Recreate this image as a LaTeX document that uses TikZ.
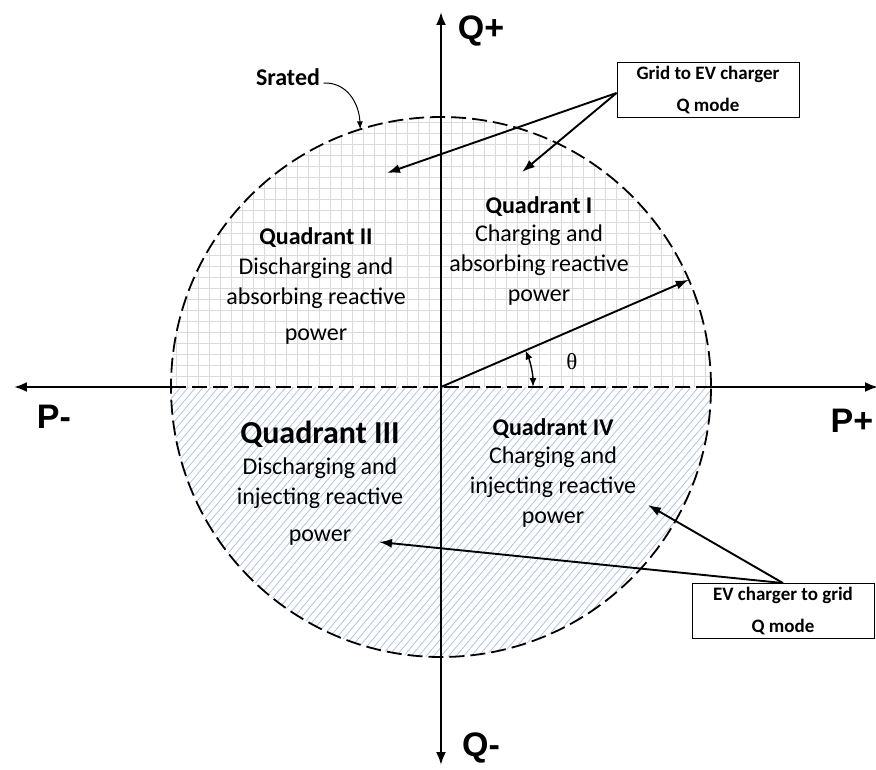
\documentclass[tikz,border=0pt]{standalone}
\usepackage{fontspec}
\setmainfont{Carlito}
\newfontfamily\axisfont{Liberation Sans}
\newfontfamily\symfont{Liberation Serif}
\usetikzlibrary{arrows.meta}
\definecolor{gridgray}{RGB}{218,218,218}
\definecolor{hatchblue}{RGB}{178,196,228}

\begin{document}
\begin{tikzpicture}[x=1pt,y=1pt,
  axis/.style={line width=2.2pt,{Latex[length=13pt,width=10pt]}-{Latex[length=13pt,width=10pt]}},
  pointer/.style={line width=1.9pt,-{Latex[length=13pt,width=9pt]}},
  axislabel/.style={font=\axisfont\bfseries\fontsize{34}{38}\selectfont},
  quadtext/.style={align=center,font=\fontsize{24}{30}\selectfont},
  modebox/.style={draw,line width=0.9pt,minimum width=182pt,minimum height=55pt,
    inner sep=2pt,align=center,font=\bfseries\fontsize{19}{32}\selectfont},
  boundary/.style={line width=1.8pt,dash pattern=on 15pt off 6pt}]
  \fill[white] (-441,-382) rectangle (435,387);
  \useasboundingbox (-441,-382) rectangle (435,387);
  \coordinate (o) at (0,0);

  \draw[axis] (-427,0) -- (437,0);
  \fill[white] (o) circle[radius=270];

  \begin{scope}
    \clip (-270,0) arc[start angle=180,end angle=0,radius=270] -- cycle;
    \draw[gridgray,line width=1pt,step=11] (-275,0) grid (275,275);
  \end{scope}
  \begin{scope}
    \clip (-270,0) arc[start angle=180,end angle=360,radius=270] -- cycle;
    \foreach \h in {-520,-512.5,...,260}
      \draw[hatchblue,line width=0.8pt] (\h,-290) -- ++(245,290);
  \end{scope}

  \draw[boundary] (o) circle[radius=270];
  \draw[boundary] (-270,0) -- (270,0);
  \draw[axis] (0,-378) -- (0,375);

  \node[axislabel] (qplus) at (40,356) {Q+};
  \node[axislabel] (qminus) at (40,-361) {Q-};
  \node[axislabel] (pminus) at (-387,-30) {P-};
  \node[axislabel] (pplus) at (411,-34) {P+};

  \coordinate (s) at (23.4:270);
  \draw[pointer] (o) -- (s);
  \draw[line width=1.4pt,{Latex[length=9pt,width=7pt]}-{Latex[length=9pt,width=7pt]}]
    (0:92) arc[start angle=0,end angle=23.4,radius=92];
  \node[font=\symfont\fontsize{23}{26}\selectfont] (theta) at (131,25) {θ};

  \node[font=\bfseries\fontsize{24}{28}\selectfont] (srated) at (-153,310) {Srated};
  \coordinate (srtip) at (107.4:270);
  \draw[line width=1pt,-{Latex[length=8pt,width=6pt]}] ([yshift=-6pt]srated.east)
    .. controls (-95,305) and (-82,285) .. (srtip);

  \node[quadtext] (q1) at (98,136) {\textbf{Quadrant I}\\[-2pt]Charging and\\absorbing reactive\\power};
  \node[quadtext] (q2) at (-125,101) {\textbf{Quadrant II}\\Discharging and\\absorbing reactive\\[6pt]power};
  \node[font=\bfseries\fontsize{32}{36}\selectfont] (q3title) at (-121,-47) {Quadrant III};
  \node[quadtext] (q3) at (-121,-115) {Discharging and\\injecting reactive\\[7pt]power};
  \node[quadtext] (q4) at (112,-86) {\textbf{Quadrant IV}\\[-2pt]Charging and\\injecting reactive\\power};

  \node[modebox] (gridbox) at (267,297) {Grid to EV charger\\Q mode};
  \node[modebox] (evbox) at (342,-224) {EV charger to grid\\Q mode};

  \coordinate (g2) at (-54,214);
  \coordinate (g1) at (81,215);
  \coordinate (e4) at (207,-118);
  \coordinate (e3) at (-62,-155);
  \draw[pointer] ([yshift=-3pt]gridbox.west) -- (g2);
  \draw[pointer] ([yshift=-3pt]gridbox.west) -- (g1);
  \draw[pointer] (evbox.north) -- (e4);
  \draw[pointer] (evbox.north) -- (e3);
\end{tikzpicture}
\end{document}
